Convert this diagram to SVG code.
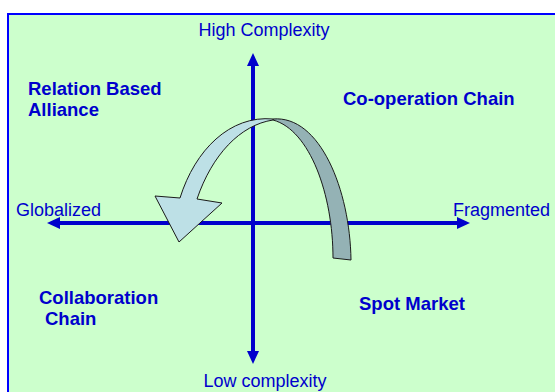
<svg xmlns="http://www.w3.org/2000/svg" width="555" height="392" viewBox="0 0 555 392">
<style>
.axis{stroke:#0000cc;stroke-width:4;fill:none}
.head{fill:#0000cc}
.t{font-family:"Liberation Sans",Arial,sans-serif;font-size:18px;fill:#0000cc}
.b{font-weight:bold;font-size:18.5px}
.rib{stroke:#1a1a1a;stroke-width:1;stroke-linejoin:round}
</style>
<rect x="8" y="14" width="560" height="390" fill="#ccffcc" stroke="#0000ff" stroke-width="2"/>
<g id="connectors">
<line class="axis" x1="58" y1="223" x2="460" y2="223"/>
<polygon class="head" points="47,223 60,217 60,229"/>
<polygon class="head" points="470,223 457,217 457,229"/>
<line class="axis" x1="253" y1="64" x2="253" y2="354"/>
<polygon class="head" points="253,53 247,66 259,66"/>
<polygon class="head" points="253,364 247,351 259,351"/>
</g>
<g id="curved-arrow">
<path class="rib" fill="#94b2b5" d="M273,119 C320,115 350,190 351,260 L333,258 C333,195 310,130 273,120 Z"/>
<path class="rib" fill="#bde0e6" d="M273,119 C230,115 195,150 180,198 L155,196 L179,242 L222,203 L197,199 C212,155 240,125 273,120 Z"/>
</g>
<g id="high"><text class="t" x="264" y="36" text-anchor="middle">High Complexity</text></g>
<g id="low"><text class="t" x="265" y="387" text-anchor="middle">Low complexity</text></g>
<g id="globalized"><text class="t" x="16" y="216">Globalized</text></g>
<g id="fragmented"><text class="t" x="453" y="216">Fragmented</text></g>
<g id="relation"><text class="t b" x="28" y="95">Relation Based</text><text class="t b" x="28" y="116">Alliance</text></g>
<g id="cooperation"><text class="t b" x="343" y="105">Co-operation Chain</text></g>
<g id="collaboration"><text class="t b" x="39" y="304">Collaboration</text><text class="t b" x="45" y="325">Chain</text></g>
<g id="spot"><text class="t b" x="359" y="310">Spot Market</text></g>
</svg>
